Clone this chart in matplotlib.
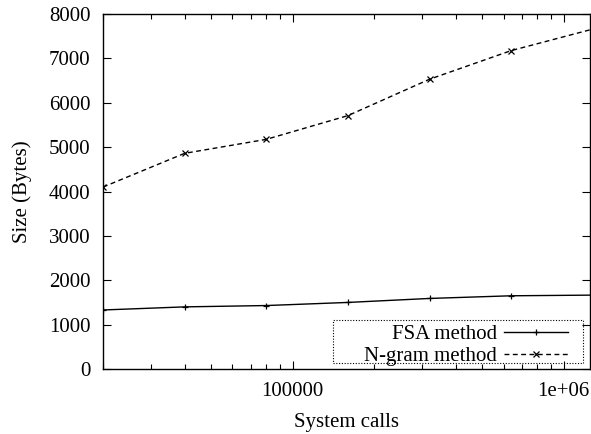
import matplotlib
matplotlib.use('Agg')
import matplotlib.pyplot as plt
from matplotlib.patches import Rectangle
from matplotlib.ticker import FixedLocator, FixedFormatter, LogLocator, NullFormatter

# data
calls = [20000, 40000, 80000, 160000, 320000, 640000, 1280000]
fsa_size = [1330, 1400, 1430, 1500, 1590, 1650, 1665]
ngram_size = [4100, 4860, 5175, 5710, 6530, 7175, 7660]
xticks = [100000, 1000000]
xticklabels = ['100000', '1e+06']

plt.rcParams['font.family'] = ['Liberation Serif', 'DejaVu Serif']
plt.rcParams['font.size'] = 15

fig = plt.figure(figsize=(5.91, 4.34), dpi=100)
ax = fig.add_axes([103 / 591, 1 - 369 / 434, 487 / 591, 355 / 434])

ax.plot(calls, fsa_size, color='black', lw=1.0, marker='+', ms=5, mew=0.9,
        label='FSA method')
ax.plot(calls, ngram_size, color='black', lw=1.0, ls=(0, (3.5, 2.5)), marker='x',
        ms=4.5, mew=0.9, label='N-gram method')

ax.set_xscale('log')
ax.set_xlim(20000, 1250000)
ax.set_ylim(0, 8000)
ax.set_yticks(range(0, 8001, 1000))
ax.xaxis.set_major_locator(FixedLocator(xticks))
ax.xaxis.set_major_formatter(FixedFormatter(xticklabels))
ax.xaxis.set_minor_locator(LogLocator(base=10, subs=range(2, 10)))
ax.xaxis.set_minor_formatter(NullFormatter())

ax.tick_params(which='both', direction='in', top=True, right=True, width=0.8)
ax.tick_params(which='major', length=6, pad=9)
ax.tick_params(which='minor', length=3.5)
for s in ax.spines.values():
    s.set_linewidth(1.0)

ax.set_xlabel('System calls', labelpad=9)
ax.set_ylabel('Size (Bytes)', labelpad=12)

# gnuplot style key: right aligned labels, dotted box with wide left margin
ax.legend(loc='lower right', bbox_to_anchor=(0.955, 0.009), borderaxespad=0,
          markerfirst=False, handlelength=3.1, handletextpad=0.33,
          labelspacing=0.1, borderpad=0.0, frameon=False, fontsize=15)
ax.add_patch(Rectangle((0.4723, 0.0169), 0.5133, 0.1211, transform=ax.transAxes,
                       fill=False, ec='black', lw=0.8, ls=(0, (1, 1.5)), zorder=5))

fig.savefig('out.png', dpi=100)
